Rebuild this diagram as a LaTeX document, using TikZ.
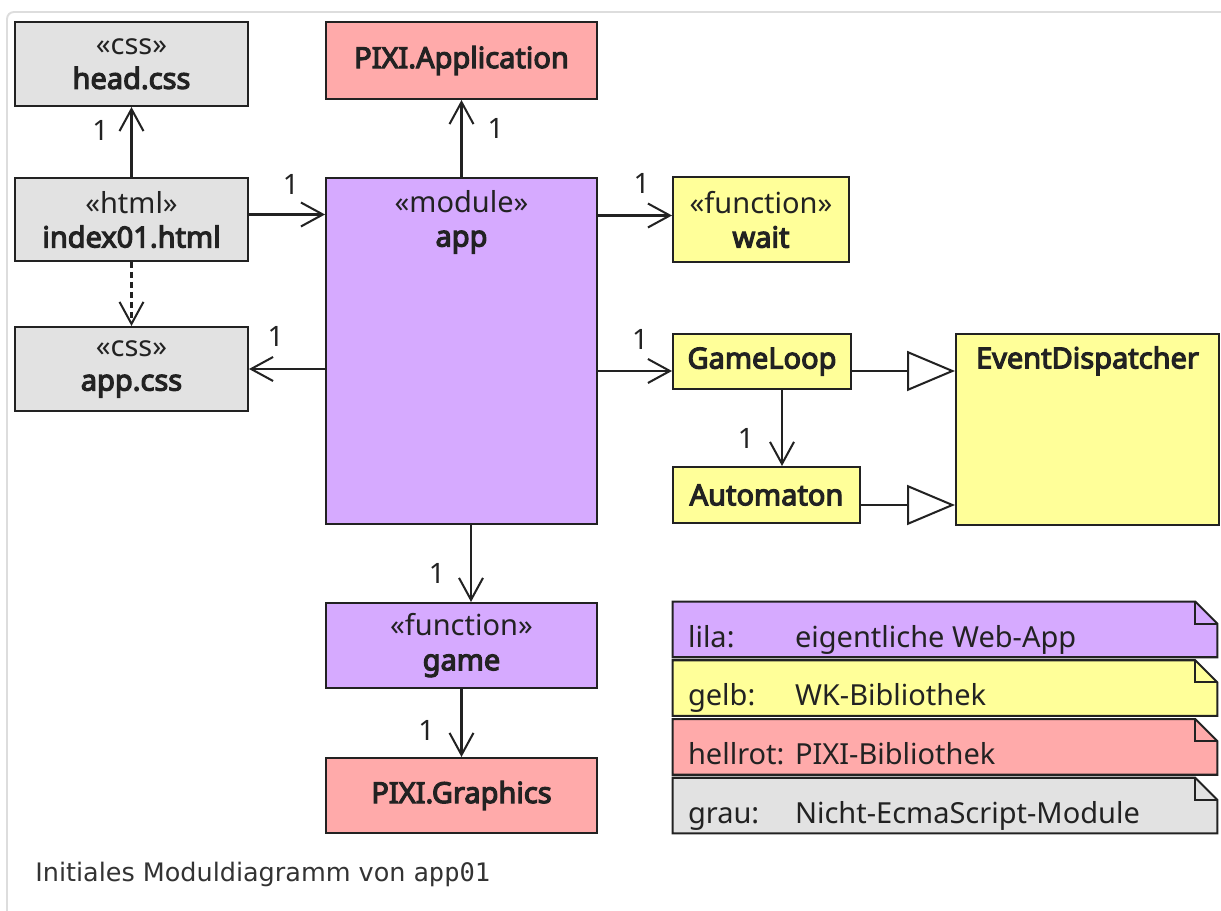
\documentclass[tikz,border=0pt]{standalone}
\usepackage{fontspec}
\setmainfont{Noto Sans}[BoldFont={Noto Sans},BoldFeatures={FakeBold=4}]
\newfontfamily\captionfont{DejaVu Sans}
\newfontfamily\captionmono{DejaVu Sans Mono}
\usetikzlibrary{positioning,calc,arrows.meta}
\definecolor{lila}{RGB}{214,170,255}
\definecolor{gelb}{RGB}{255,255,153}
\definecolor{hellrot}{RGB}{255,170,170}
\definecolor{grau}{RGB}{226,226,226}
\definecolor{linie}{RGB}{34,34,34}
\definecolor{rahmen}{RGB}{221,221,221}
\tikzset{
  >={Straight Barb[length=0.44cm,width=0.48cm]},
  my box/.style={
    draw=linie,
    line width=1.15pt,
    rectangle,
    inner sep=0pt,
    align=center,
    text=linie,
    font=\fontsize{16.5pt}{19.5pt}\selectfont
  },
  my label/.style={
    rectangle,
    inner sep=0pt,
    align=center,
    text=linie,
    font=\fontsize{16.5pt}{19.5pt}\selectfont
  },
  my mult/.style={
    inner sep=0pt,
    text=linie,
    font=\fontsize{16pt}{19pt}\selectfont
  },
  my link/.style={->,draw=linie,line width=1.15pt},
  my dep/.style={my link,dash pattern=on 0.12cm off 0.08cm},
  my gen/.style={-{Triangle[open,length=0.96cm,width=0.8cm]},draw=linie,line width=1.15pt},
  my note/.style={draw=linie,line width=1.15pt,line join=miter}
}
\newcommand{\stereo}[2]{«#1»\\\textbf{#2}}
\newcommand{\nameonly}[1]{\textbf{#1}}

\begin{document}
\begin{tikzpicture}[x=0.02cm,y=-0.02cm]
\useasboundingbox (0,0) rectangle (1221,911);
\draw[rahmen,line width=1.1pt,rounded corners=0.14cm] (7,911) -- (7,12) -- (1221,12);

% Module
\node[my box,fill=grau,minimum width=4.66cm,minimum height=1.68cm] (head) at (131.5,64) {\stereo{css}{head.css}};
\node[my box,fill=grau,minimum width=4.66cm,minimum height=1.66cm] (index) at (131.5,219.5) {\stereo{html}{index01.html}};
\node[my box,fill=grau,minimum width=4.66cm,minimum height=1.68cm] (appcss) at (131.5,369) {\stereo{css}{app.css}};
\node[my box,fill=hellrot,minimum width=5.42cm,minimum height=1.54cm] (pixiapp) at (461.5,60.5) {\nameonly{PIXI.Application}};
\node[my box,fill=lila,minimum width=5.42cm,minimum height=6.92cm] (app) at (461.5,351) {};
\node[my label,anchor=north,minimum height=1.78cm] (apptext) at (app.north) {\stereo{module}{app}};
\node[my box,fill=lila,minimum width=5.42cm,minimum height=1.7cm] (game) at (461.5,645.5) {\stereo{function}{game}};
\node[my box,fill=hellrot,minimum width=5.42cm,minimum height=1.5cm] (pixigr) at (461.5,795.5) {\nameonly{PIXI.Graphics}};
\node[my box,fill=gelb,minimum width=3.52cm,minimum height=1.7cm] (wait) at (761,219.5) {\stereo{function}{wait}};
\node[my box,fill=gelb,minimum width=3.56cm,minimum height=1.1cm] (gameloop) at (762,361.5) {\nameonly{GameLoop}};
\node[my box,fill=gelb,minimum width=3.74cm,minimum height=1.12cm] (automaton) at (766.5,495) {\nameonly{Automaton}};
\node[my box,fill=gelb,minimum width=5.26cm,minimum height=3.82cm] (evdisp) at (1087.5,429.5) {};
\node[my label,anchor=north,minimum height=1.1cm] (evdisptext) at (evdisp.north) {\nameonly{EventDispatcher}};

% Beziehungen
\coordinate (glfuss) at ($(gameloop.south)+(20,0)$);
\coordinate (appfuss) at ($(app.south)+(9.5,0)$);
\draw[my link] (index.north) -- node[my mult,pos=0.67,left=0.44cm] (m1) {1} (head.south);
\draw[my link] (app.north) -- node[my mult,pos=0.63,right=0.5cm] (m2) {1} (pixiapp.south);
\draw[my link] ($(index.east)+(0,-5)$) -- node[my mult,pos=0.55,above=0.38cm] (m3) {1} ($(index.east -| app.west)+(0,-5)$);
\draw[my dep] (index.south) -- (appcss.north);
\draw[my link] (appcss.east -| app.west) -- node[my mult,pos=0.65,above=0.42cm] (m4) {1} (appcss.east);
\draw[my link] ($(wait.west -| app.east)+(0,-4)$) -- node[my mult,pos=0.59,above=0.42cm] (m5) {1} ($(wait.west)+(0,-4)$);
\draw[my link] ($(gameloop.west -| app.east)+(0,9.5)$) -- node[my mult,pos=0.57,above=0.4cm] (m6) {1} ($(gameloop.west)+(0,9.5)$);
\draw[my link] (glfuss) -- node[my mult,pos=0.64,left=0.54cm] (m7) {1} (glfuss |- automaton.north);
\draw[my link] (appfuss) -- node[my mult,pos=0.63,left=0.5cm] (m8) {1} (appfuss |- game.north);
\draw[my link] (game.south) -- node[my mult,pos=0.61,left=0.52cm] (m9) {1} (pixigr.north);
\draw[my gen] ($(gameloop.east)+(0,9.5)$) -- ($(gameloop.east -| evdisp.west)+(0,9.5)$);
\draw[my gen] ($(automaton.east)+(0,10)$) -- ($(automaton.east -| evdisp.west)+(0,10)$);

% Legende
\foreach \n/\farbe/\y/\lab/\txt in {lila/lila/629.4/lila:/eigentliche Web-App,
    gelb/gelb/688.1/gelb:/WK-Bibliothek,
    hellrot/hellrot/746.9/hellrot:/PIXI-Bibliothek,
    grau/grau/805.6/grau:/Nicht-EcmaScript-Module}{
  \node[minimum width=10.88cm,minimum height=1.1cm,inner sep=0pt] (n\n) at (945,\y) {};
  \draw[my note,fill=\farbe] (n\n.north west) -- ($(n\n.north east)+(-22,0)$) -- ($(n\n.north east)+(0,22)$)
    -- (n\n.south east) -- (n\n.south west) -- cycle;
  \draw[my note] ($(n\n.north east)+(-22,0)$) -- ($(n\n.north east)+(-22,22)$) -- ($(n\n.north east)+(0,22)$);
  \node[my mult,font=\fontsize{16.5pt}{19.5pt}\selectfont,anchor=base west] (t\n) at ($(n\n.south west)+(15,-10)$) {\makebox[2.14cm][l]{\lab}\txt};
}

\node[anchor=base west,inner sep=0pt,text=black!80,font=\captionfont\fontsize{14.5pt}{17pt}\selectfont] (caption) at (35,882) {Initiales Moduldiagramm von {\captionmono app01}};
\end{tikzpicture}
\end{document}
